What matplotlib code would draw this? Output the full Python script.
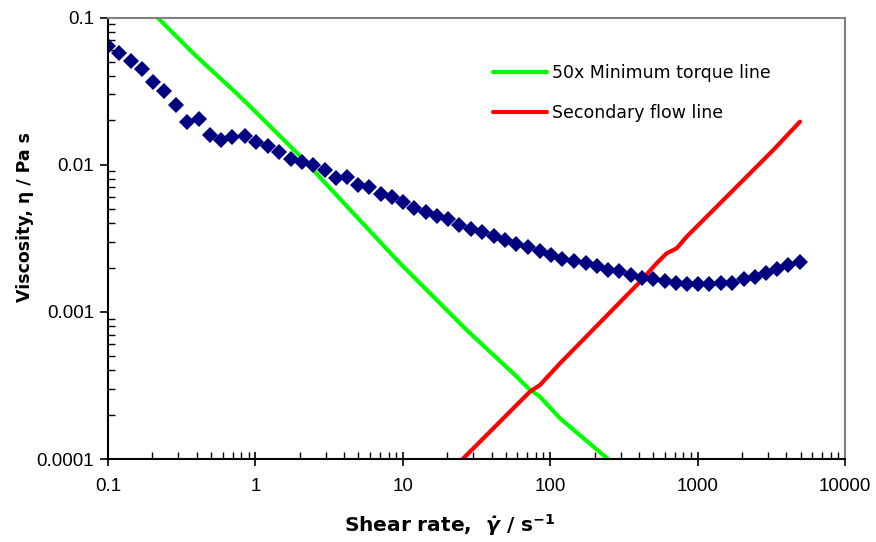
import numpy as np
import matplotlib
matplotlib.use("Agg")
import matplotlib.pyplot as plt
from matplotlib.ticker import FixedLocator, FixedFormatter, LogLocator, NullFormatter

# measured viscosity (blue diamonds)
shear_rate = [0.1, 0.119, 0.143, 0.169, 0.203, 0.241, 0.291, 0.345, 0.412, 0.49,
              0.584, 0.697, 0.85, 1.01, 1.21, 1.45, 1.74, 2.06, 2.47, 2.95,
              3.51, 4.16, 4.97, 5.93, 7.08, 8.45, 10.0, 12.0, 14.3, 17.1,
              20.4, 24.2, 28.9, 34.6, 41.4, 49.3, 58.6, 70.2, 85.5, 102,
              121, 145, 175, 207, 246, 293, 352, 422, 498, 598,
              710, 851, 1011, 1200, 1435, 1711, 2055, 2450, 2896, 3456,
              4104, 4950]
viscosity = [0.064, 0.0571, 0.0506, 0.0447, 0.0364, 0.0317, 0.0256, 0.0196, 0.0204, 0.016,
             0.0148, 0.0155, 0.0156, 0.0143, 0.0134, 0.01225, 0.0109, 0.0104, 0.00995, 0.00916,
             0.00816, 0.0082, 0.00724, 0.00705, 0.00629, 0.00603, 0.00555, 0.0051, 0.00479, 0.0045,
             0.00425, 0.00391, 0.00367, 0.00347, 0.00326, 0.00308, 0.00291, 0.00274, 0.0026, 0.00244,
             0.0023, 0.00223, 0.00215, 0.00206, 0.00192, 0.00189, 0.00179, 0.0017, 0.00167, 0.00162,
             0.00157, 0.00154, 0.00154, 0.00154, 0.00158, 0.00158, 0.00166, 0.00172, 0.00184, 0.00195,
             0.00207, 0.00218]

# 50x minimum torque line
torque_x = [0.187, 0.285, 0.4, 0.746, 0.873, 2.01, 9.57, 27.1, 59.3, 71.0, 85.2, 116.6, 246.6, 275]
torque_y = [0.116, 0.076, 0.0542, 0.0305, 0.0262, 0.01145, 0.00214, 0.000753, 0.000363,
            0.000302, 0.000265, 0.000189, 0.0001, 0.000088]

# secondary flow line
flow_x = [22.96, 25.1, 72.9, 85.2, 116.6, 406.7, 528, 617, 721, 843, 3263, 4950]
flow_y = [0.000088, 0.0000984, 0.000287, 0.000318, 0.000447, 0.0016, 0.00214, 0.0025,
          0.0027, 0.00324, 0.01258, 0.0196]

x_ticks = [0.1, 1, 10, 100, 1000, 10000]
x_labels = ["0.1", "1", "10", "100", "1000", "10000"]
y_ticks = [0.0001, 0.001, 0.01, 0.1]
y_labels = ["0.0001", "0.001", "0.01", "0.1"]

fig = plt.figure(figsize=(8.76, 5.42), dpi=100)
ax = fig.add_axes([0.1233, 0.1531, 0.8413, 0.8146])

ax.plot(torque_x, torque_y, color="#00ff00", lw=3, solid_capstyle="round",
        label="50x Minimum torque line")
ax.plot(flow_x, flow_y, color="#ff0000", lw=3, solid_capstyle="round",
        label="Secondary flow line")
ax.plot(shear_rate, viscosity, ls="none", marker="D", ms=8, color="#000080",
        markeredgewidth=0)

ax.set_xscale("log")
ax.set_yscale("log")
ax.set_xlim(0.1, 10000)
ax.set_ylim(0.0001, 0.1)

ax.xaxis.set_major_locator(FixedLocator(x_ticks))
ax.xaxis.set_major_formatter(FixedFormatter(x_labels))
ax.yaxis.set_major_locator(FixedLocator(y_ticks))
ax.yaxis.set_major_formatter(FixedFormatter(y_labels))
ax.xaxis.set_minor_locator(LogLocator(base=10, subs=np.arange(2, 10)))
ax.yaxis.set_minor_locator(LogLocator(base=10, subs=np.arange(2, 10)))
ax.xaxis.set_minor_formatter(NullFormatter())
ax.yaxis.set_minor_formatter(NullFormatter())

ax.tick_params(axis="x", which="major", direction="inout", length=10, width=1.2,
               labelsize=13.5, pad=9)
ax.tick_params(axis="y", which="major", direction="out", length=6, width=1.2,
               labelsize=13.5, pad=4)
ax.tick_params(which="minor", direction="in", length=5, width=1)
for lab in ax.get_xticklabels() + ax.get_yticklabels():
    lab.set_fontfamily("Liberation Sans")

for side in ["top", "right"]:
    ax.spines[side].set_color("#808080")
    ax.spines[side].set_linewidth(1.5)
for side in ["left", "bottom"]:
    ax.spines[side].set_color("black")
    ax.spines[side].set_linewidth(1.5)

ax.set_xlabel(r"Shear rate,  $\mathbfit{\dot{\gamma}}$ / s$^{\mathbf{-1}}$",
              fontsize=14.5, fontweight="bold", va="top")
ax.xaxis.set_label_coords(0.464, -0.12)
ax.set_ylabel("Viscosity, η / Pa s", fontsize=12.5, fontweight="bold")
ax.yaxis.set_label_coords(-0.100, 0.548)

ax.legend(loc="upper left", bbox_to_anchor=(0.522, 0.895), frameon=False,
          fontsize=12.5, handlelength=3.15, handletextpad=0.25, labelspacing=1.3,
          borderpad=0, borderaxespad=0)

fig.savefig("out.png", dpi=100)
